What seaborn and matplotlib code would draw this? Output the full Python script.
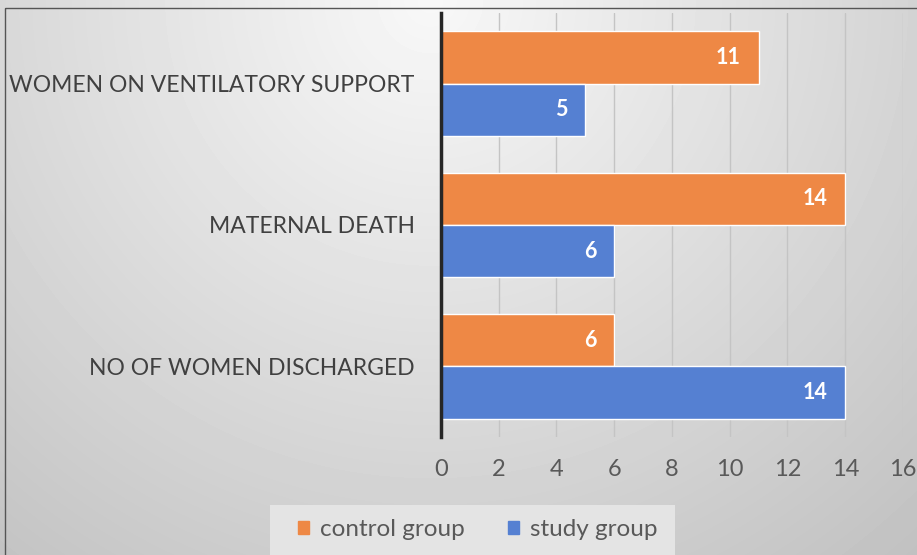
import numpy as np
import pandas as pd
import matplotlib
matplotlib.use('Agg')
import matplotlib.pyplot as plt
import seaborn as sns
from matplotlib.patches import Rectangle, Patch

# chart data
categories = ['WOMEN ON VENTILATORY SUPPORT', 'MATERNAL DEATH', 'NO OF WOMEN DISCHARGED']
control_group = [11, 14, 6]
study_group = [5, 6, 14]
groups = ['control group', 'study group']
colors = ['#EE8845', '#5580D2']
x_ticks = [0, 2, 4, 6, 8, 10, 12, 14, 16]

df = pd.DataFrame({
    'category': categories * 2,
    'value': control_group + study_group,
    'group': [groups[0]] * len(categories) + [groups[1]] * len(categories),
})

sns.set_style('white')
plt.rcParams['font.family'] = ['Lato', 'DejaVu Sans']

fig = plt.figure(figsize=(9.17, 5.55), dpi=100)

# radial grey background like the Excel chart area
bg = fig.add_axes([0, 0, 1, 1], zorder=0)
yy, xx = np.mgrid[0:555, 0:917]
d = np.sqrt(((xx - 430) / 600.0) ** 2 + (yy / 600.0) ** 2)
shade = np.clip(248 - 45 * d, 190, 250) / 255.0
bg.imshow(shade, cmap='gray', vmin=0, vmax=1, extent=[0, 917, 555, 0], aspect='auto')
bg.add_patch(Rectangle((5, 8), 1000, 1000, fill=False, edgecolor='#555555', lw=1))
bg.add_patch(Rectangle((270, 505), 405, 60, facecolor='#e4e4e4', edgecolor='none'))
bg.set_xlim(0, 917)
bg.set_ylim(555, 0)
bg.axis('off')

ax = fig.add_axes([0.4809, 0.2126, 0.5038, 0.764], zorder=1)
ax.patch.set_alpha(0)

sns.barplot(data=df, x='value', y='category', hue='group', orient='h',
            palette=colors, saturation=1, width=0.74, edgecolor='white',
            linewidth=1, ax=ax, legend=False)

ax.set_xlim(0, 16)
ax.set_ylim(2.5, -0.5)
ax.set_xticks(x_ticks)
ax.xaxis.grid(True, color='#c4c4c4', lw=1)
ax.yaxis.grid(False)
ax.set_axisbelow(True)
ax.set_xlabel('')
ax.set_ylabel('')
for s in ['top', 'right', 'bottom']:
    ax.spines[s].set_visible(False)
ax.spines['left'].set_color('#262626')
ax.spines['left'].set_linewidth(2.5)
ax.spines['left'].set_zorder(5)

ax.tick_params(axis='x', length=0, pad=16, labelsize=17, labelcolor='#595959')
ax.tick_params(axis='y', length=0, pad=19, labelsize=16.5, labelcolor='#404040')

# value labels inside bar ends
for cont in ax.containers:
    for bar in cont:
        w = bar.get_width()
        ax.annotate(f'{w:g}', (w, bar.get_y() + bar.get_height() / 2),
                    xytext=(-13, 0), textcoords='offset points',
                    ha='right', va='center', color='white',
                    fontsize=15.5, fontweight='bold')

fig.legend(handles=[Patch(color=c) for c in colors], labels=groups,
           loc='center', bbox_to_anchor=(0.521, 1 - 530 / 555), ncol=2,
           frameon=False, fontsize=17.5, handlelength=0.45, handleheight=0.45,
           handletextpad=0.45, columnspacing=1.8, labelcolor='#595959')

fig.savefig('out.png', dpi=100)
